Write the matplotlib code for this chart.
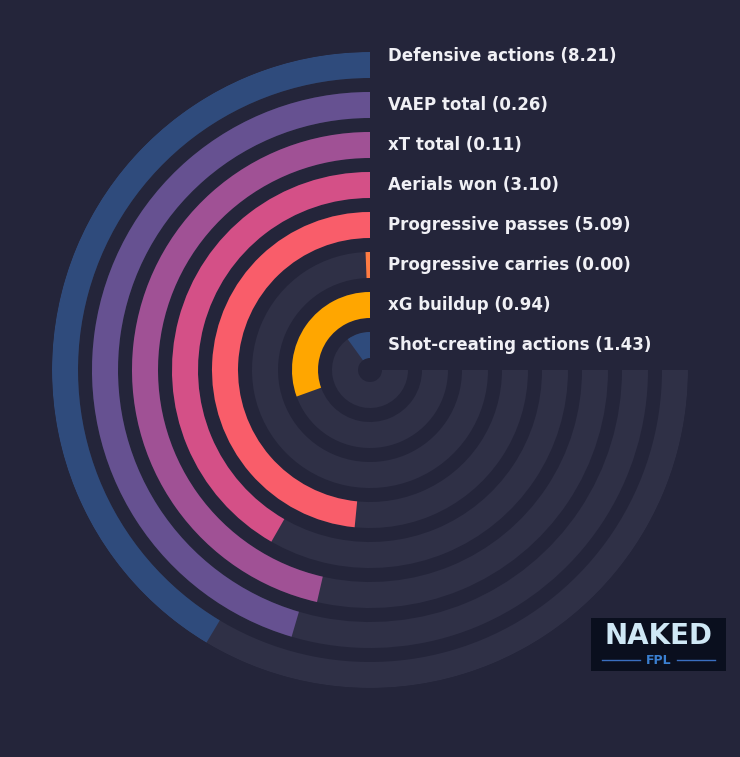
import numpy as np
import matplotlib
matplotlib.use("Agg")
import matplotlib.pyplot as plt

labels = ["Defensive actions", "VAEP total", "xT total", "Aerials won",
          "Progressive passes", "Progressive carries", "xG buildup", "Shot-creating actions"]
values = [8.21, 0.26, 0.11, 3.10, 5.09, 0.00, 0.94, 1.43]
percentiles = [55.2, 60.6, 61.9, 55.6, 64.6, 0.8, 40.7, 13.3]
colors = ["#2f4b7c", "#665191", "#a05195", "#d45087", "#f95d6a", "#ff7c43", "#ffa600", "#2f4b7c"]

bg = "#24253a"
track = "#2f3046"
W, H = 740, 757
fig = plt.figure(figsize=(W/100, H/100), dpi=100, facecolor=bg)
cx, cy, R = 370, 370, 318
ax = fig.add_axes([(cx-R)/W, (H-cy-R)/H, 2*R/W, 2*R/H], projection="polar")
ax.set_facecolor("none")
ax.set_theta_zero_location("N")
ax.set_theta_direction(1)
ax.set_ylim(0, R)
ax.axis("off")

full = np.deg2rad(270)
for i, (lab, v, p, c) in enumerate(zip(labels, values, percentiles, colors)):
    outer = R - 40*i
    inner = outer - 26
    ax.bar(0, 26, width=full, bottom=inner, align="edge", color=track, linewidth=0)
    ax.bar(0, 26, width=full*p/100, bottom=inner, align="edge", color=c, linewidth=0)
    dy = 9 if i == 0 else 0
    ax.annotate(f"{lab} ({v:.2f})", xy=(0, outer-13), xytext=(18, dy), textcoords="offset pixels",
                ha="left", va="center", color="#f0f0f5", fontsize=12, fontweight="bold")

# logo
lx, ly, lw, lh = 591, 618, 135, 53
lax = fig.add_axes([lx/W, (H-ly-lh)/H, lw/W, lh/H])
lax.set_facecolor("#0a0f1e")
lax.set_xticks([]); lax.set_yticks([])
for s in lax.spines.values():
    s.set_visible(False)
lax.text(0.5, 0.66, "NAKED", ha="center", va="center", color="#cfe8f5", fontsize=20,
         fontweight="bold", transform=lax.transAxes)
lax.plot([0.08, 0.36], [0.2, 0.2], color="#3a6fc0", lw=1, transform=lax.transAxes)
lax.plot([0.64, 0.92], [0.2, 0.2], color="#3a6fc0", lw=1, transform=lax.transAxes)
lax.text(0.5, 0.2, "FPL", ha="center", va="center", color="#3a7fd0", fontsize=9,
         fontweight="bold", transform=lax.transAxes)

fig.savefig("out.png", dpi=100, facecolor=bg)
